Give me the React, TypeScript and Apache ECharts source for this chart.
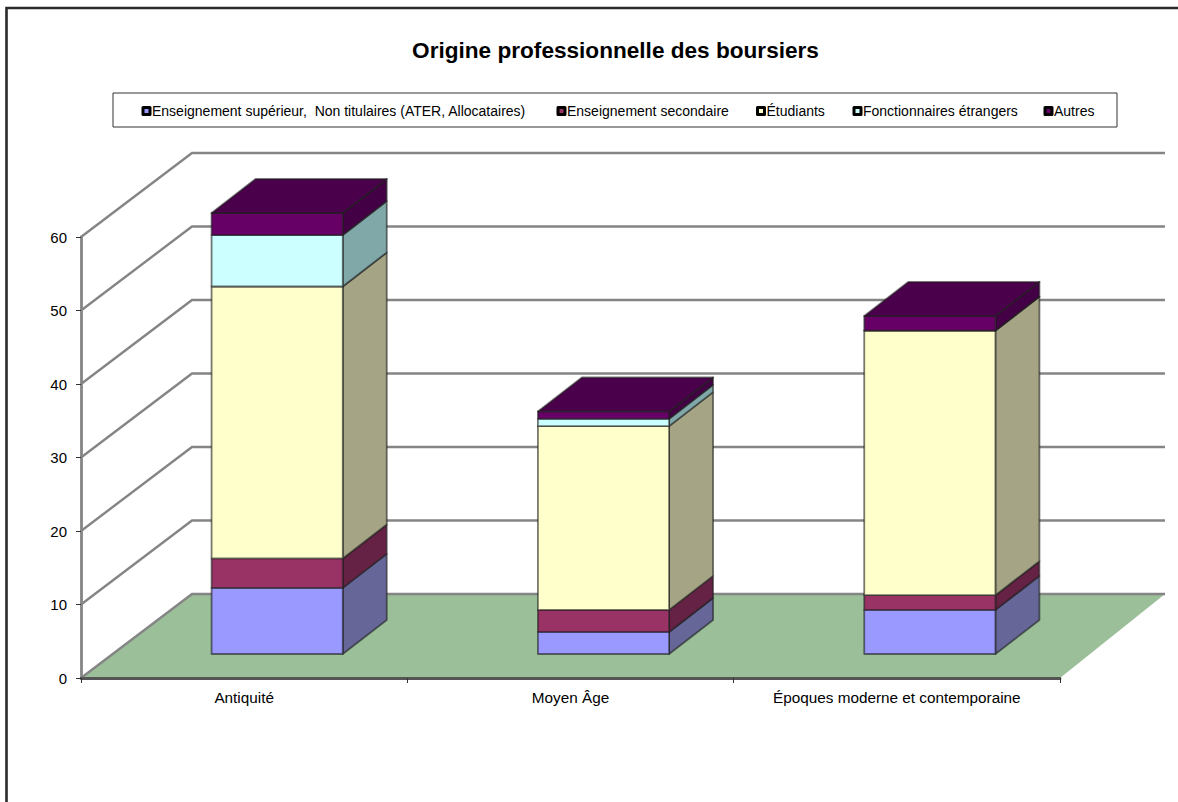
import React, { useEffect, useRef } from "react";
import * as echarts from "echarts";

const titleText = "Origine professionnelle des boursiers";
const categories = ["Antiquité", "Moyen Âge", "Époques moderne et contemporaine"];
const yTicks = [0, 10, 20, 30, 40, 50, 60];

const seriesNames = [
  "Enseignement supérieur,  Non titulaires (ATER, Allocataires)",
  "Enseignement secondaire",
  "Étudiants",
  "Fonctionnaires étrangers",
  "Autres",
];
const superieur = [9, 3, 6];
const secondaire = [4, 3, 2];
const etudiants = [37, 25, 36];
const fonctionnaires = [7, 1, 0];
const autres = [3, 1, 2];
const seriesValues = [superieur, secondaire, etudiants, fonctionnaires, autres];

const frontColors = ["#9999FF", "#993366", "#FFFFCC", "#CCFFFF", "#660066"];
const sideColors = ["#666699", "#662244", "#A5A585", "#80A8A8", "#440044"];
const topColor = "#4A004A";
const legendLeft = [141.5, 556.5, 756, 852.5, 1043.5];

const FONT = "Liberation Sans";
const GRID = { left: 81, top: 237, width: 979, height: 441 };
const WALL_DX = 111;
const WALL_DX_RIGHT = 105;
const WALL_DY = 84;
const BAR_SHIFT_X = 33;
const BAR_SHIFT_Y = 24;
const BAR_DX = 44;
const BAR_DY = 34;
const BAR_RATIO = 0.402;
const EDGE = "rgba(30,30,30,0.6)";
const WALL_LINE = "#858585";

function buildStack(idx: number) {
  return categories.map((_, c) => {
    let start = 0;
    for (let s = 0; s < idx; s++) start += seriesValues[s][c];
    return [c, start, start + seriesValues[idx][c]];
  });
}

function poly(points: number[][], fill: string) {
  return {
    type: "polygon",
    shape: { points },
    style: { fill, stroke: EDGE, lineWidth: 1.8, lineJoin: "round" },
  };
}

function barSeries(idx: number) {
  return {
    type: "custom",
    name: seriesNames[idx],
    clip: false,
    silent: true,
    z: 5 + idx,
    itemStyle: { color: frontColors[idx] },
    data: buildStack(idx),
    encode: { x: 0, y: [1, 2] },
    renderItem: (_: any, api: any) => {
      const c = api.value(0);
      const a = api.coord([c, api.value(1)]);
      const b = api.coord([c, api.value(2)]);
      const w = api.size([1, 0])[0] * BAR_RATIO;
      const l = a[0] + BAR_SHIFT_X - w / 2;
      const r = l + w;
      const y0 = a[1] - BAR_SHIFT_Y;
      const y1 = b[1] - BAR_SHIFT_Y;
      const children: any[] = [
        poly([[r, y0], [r + BAR_DX, y0 - BAR_DY], [r + BAR_DX, y1 - BAR_DY], [r, y1]], sideColors[idx]),
        poly([[l, y0], [r, y0], [r, y1], [l, y1]], frontColors[idx]),
      ];
      if (idx === seriesNames.length - 1) {
        children.push(poly([[l, y1], [r, y1], [r + BAR_DX, y1 - BAR_DY], [l + BAR_DX, y1 - BAR_DY]], topColor));
      }
      return { type: "group", children };
    },
  };
}

const floorSeries = {
  type: "custom",
  name: "floor",
  clip: false,
  silent: true,
  z: 1,
  data: [[0, 0]],
  encode: { x: 0, y: 1 },
  renderItem: (params: any, api: any) => {
    const cs = params.coordSys;
    const y0 = api.coord([0, 0])[1];
    return {
      type: "polygon",
      shape: {
        points: [
          [cs.x, y0],
          [cs.x + cs.width, y0],
          [cs.x + cs.width + WALL_DX_RIGHT, y0 - WALL_DY],
          [cs.x + WALL_DX, y0 - WALL_DY],
        ],
      },
      style: { fill: "#9ABF99", stroke: "none" },
    };
  },
};

const wallSeries = {
  type: "custom",
  name: "walls",
  clip: false,
  silent: true,
  z: 2,
  data: yTicks.map((t) => [0, t]),
  encode: { x: 0, y: 1 },
  renderItem: (params: any, api: any) => {
    const cs = params.coordSys;
    const y = api.coord([0, api.value(1)])[1];
    return {
      type: "polyline",
      shape: {
        points: [
          [cs.x, y],
          [cs.x + WALL_DX, y - WALL_DY],
          [cs.x + cs.width + WALL_DX_RIGHT, y - WALL_DY],
        ],
      },
      style: { fill: "none", stroke: WALL_LINE, lineWidth: 2.4 },
    };
  },
};

export default function App() {
  const ref = useRef<HTMLDivElement>(null);
  useEffect(() => {
    document.body.style.margin = "0";
    const chart = echarts.init(ref.current!, undefined, { renderer: "svg" });
    chart.setOption({
      animation: false,
      backgroundColor: "#ffffff",
      textStyle: { fontFamily: FONT },
      title: {
        text: titleText,
        left: 610.5,
        top: 33.5,
        textAlign: "center",
        textStyle: { fontFamily: FONT, fontSize: 22.6, fontWeight: "bold", color: "#000" },
      },
      legend: seriesNames.map((name, i) => ({
        data: [name],
        left: legendLeft[i],
        top: 104,
        padding: 0,
        selectedMode: false,
        icon: "rect",
        itemWidth: 7,
        itemHeight: 7,
        itemStyle: { color: frontColors[i], borderColor: "#000", borderWidth: 3, borderJoin: "round" },
        textStyle: { fontFamily: FONT, fontSize: 14, color: "#000", padding: [0, 0, 0, -3] },
      })),
      graphic: [
        {
          type: "polyline",
          silent: true,
          shape: { points: [[6.5, 802], [6.5, 8], [1178, 8]] },
          style: { fill: "none", stroke: "#2b2b2b", lineWidth: 2.6 },
        },
        {
          type: "rect",
          silent: true,
          z: -1,
          shape: { x: 113, y: 93, width: 1004, height: 34 },
          style: { fill: "#fff", stroke: "#333", lineWidth: 1 },
        },
      ],
      grid: { ...GRID, containLabel: false },
      xAxis: {
        type: "category",
        data: categories,
        axisLine: { lineStyle: { color: "#555555", width: 2.8 } },
        axisTick: { show: true, length: 5, lineStyle: { color: "#333", width: 1 } },
        axisLabel: { fontFamily: FONT, fontSize: 15.3, color: "#000", margin: 12, interval: 0 },
        splitLine: { show: false },
        z: 3,
      },
      yAxis: {
        type: "value",
        min: 0,
        max: 60,
        interval: 10,
        axisLine: { show: true, lineStyle: { color: WALL_LINE, width: 2.8 } },
        axisTick: { show: true, length: 5, lineStyle: { color: "#333", width: 1 } },
        axisLabel: { fontFamily: FONT, fontSize: 15, color: "#000", margin: 14, padding: [3, 0, 0, 0] },
        splitLine: { show: false },
        z: 3,
      },
      series: [floorSeries, wallSeries, ...seriesNames.map((_, i) => barSeries(i))],
    });
    return () => chart.dispose();
  }, []);
  return <div ref={ref} style={{ position: "absolute", left: 0, top: 0, width: 1178, height: 802 }} />;
}
